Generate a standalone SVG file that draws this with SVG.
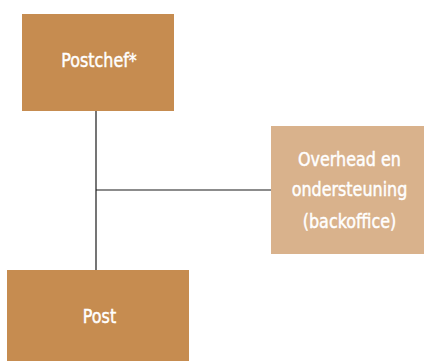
<svg xmlns="http://www.w3.org/2000/svg" width="424" height="361" viewBox="0 0 424 361">
  <style>
    .box-dark { fill: #C68C50; }
    .box-light { fill: #D9B28C; }
    .label { font-family: "DejaVu Sans Condensed", "DejaVu Sans", sans-serif; font-stretch: condensed; font-size: 19.5px; fill: #FFFFFF; stroke: #FFFFFF; stroke-width: 0.45; text-anchor: middle; }
    .wire { stroke: #1A1A1A; stroke-width: 1.2; fill: none; }
  </style>
  <rect width="424" height="361" fill="#FFFFFF"/>
  <g id="connectors">
    <line class="wire" x1="96" y1="111" x2="96" y2="270"/>
    <line class="wire" x1="96" y1="190" x2="271" y2="190"/>
  </g>
  <g id="postchef">
    <rect class="box-dark" x="22" y="14" width="152" height="97"/>
    <text class="label" transform="translate(99,66.5) scale(0.91,1)">Postchef*</text>
  </g>
  <g id="overhead">
    <rect class="box-light" x="271" y="126" width="153" height="128"/>
    <text class="label" transform="translate(349.5,165.5) scale(0.91,1)">Overhead en</text>
    <text class="label" transform="translate(349.5,196) scale(0.91,1)">ondersteuning</text>
    <text class="label" transform="translate(349.5,227.5) scale(0.91,1)">(backoffice)</text>
  </g>
  <g id="post">
    <rect class="box-dark" x="7" y="270" width="182" height="91"/>
    <text class="label" transform="translate(99.5,322.5) scale(0.91,1)">Post</text>
  </g>
</svg>
